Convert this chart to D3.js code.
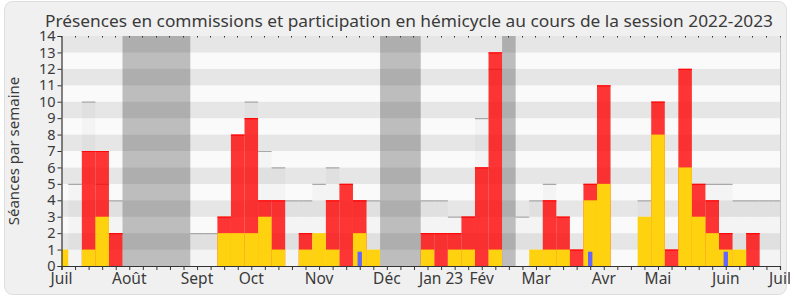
<!DOCTYPE html>
<html>
<head>
<meta charset="utf-8">
<script src="https://cdn.jsdelivr.net/npm/d3@7"></script>
<style>
  html, body { margin: 0; padding: 0; background: #ffffff; }
  svg { display: block; }
  text { font-family: "Noto Sans", "DejaVu Sans", sans-serif; fill: #3a3a3a; }
</style>
</head>
<body>
<svg id="chart" width="790" height="300"></svg>
<script>
// Weekly values, week 0 = first week of July 2022, week 53 = first week of July 2023
const presences = [0, 0, 7, 7, 2, 0, 0, 0, 0, 0, 0, 0, 3, 8, 9, 4, 4, 0, 2, 0, 4, 5, 4, 0, 0, 0, 0,
  2, 2, 2, 3, 6, 13, 0, 0, 0, 4, 3, 1, 5, 11, 0, 0, 0, 10, 1, 12, 5, 4, 2, 0, 2, 0, 0];
const hemicycle = [1, 0, 1, 3, 0, 0, 0, 0, 0, 0, 0, 0, 2, 2, 2, 3, 1, 0, 1, 2, 1, 0, 2, 1, 0, 0, 0,
  1, 0, 1, 1, 0, 1, 0, 0, 1, 1, 1, 0, 4, 5, 0, 0, 3, 8, 0, 6, 3, 2, 1, 1, 0, 0, 0];
const mediane = [0, 5, 10, 5, 4, 0, 0, 0, 0, 0, 2, 2, 0, 0, 10, 7, 6, 4, 4, 5, 6, 0, 4, 4, 0, 0, 0,
  4, 4, 3, 3, 9, 12, 0, 3, 4, 5, 0, 0, 0, 0, 0, 0, 4, 0, 0, 0, 0, 5, 5, 4, 4, 4, 4];
const questionWeeks = [22, 39, 49];
const questionValues = [0.87, 0.87, 0.87];
const vacances = [[5, 9], [24, 26], [33, 33]];
const monthLabels = ["Juil", "Août", "Sept", "Oct", "Nov", "Déc", "Jan 23", "Fév", "Mar", "Avr", "Mai", "Juin", "Juil"];
const monthWeeks = [0, 5, 10, 14, 19, 24, 28, 31, 35, 40, 44, 49, 53];
const yTicks = d3.range(0, 15);

const margin = { top: 36, right: 10, bottom: 34, left: 61.5 },
  width = 790, height = 300,
  plotW = width - margin.left - margin.right,
  plotH = height - margin.top - margin.bottom;

const svg = d3.select("#chart");

// outer panel
svg.append("rect")
  .attr("x", 4.5).attr("y", 1.5)
  .attr("width", 782).attr("height", 293)
  .attr("rx", 8)
  .attr("fill", "#f0f0f0")
  .attr("stroke", "#dedede");

const x = d3.scaleLinear().domain([0, 53]).range([0, plotW]);
const y = d3.scaleLinear().domain([0, 14]).range([plotH, 0]);

svg.append("defs").append("clipPath").attr("id", "plotclip")
  .append("rect").attr("width", plotW).attr("height", plotH);

const g = svg.append("g").attr("transform", `translate(${margin.left},${margin.top})`);
const plot = g.append("g").attr("clip-path", "url(#plotclip)");

// background stripes
plot.selectAll("rect.stripe")
  .data(d3.range(14))
  .join("rect")
  .attr("class", "stripe")
  .attr("x", 0)
  .attr("width", plotW)
  .attr("y", (d) => y(d + 1))
  .attr("height", (d) => y(d) - y(d + 1))
  .attr("fill", (d) => (d % 2 === 0 ? "#fafafa" : "#e6e6e6"));

// median presence (light bars)
const weeks = presences.map((d, i) => i);
plot.selectAll("rect.median")
  .data(weeks.filter((i) => mediane[i] > 0))
  .join("rect")
  .attr("class", "median")
  .attr("x", (i) => x(i - 0.5))
  .attr("width", (i) => x(i + 0.5) - x(i - 0.5))
  .attr("y", (i) => y(mediane[i]))
  .attr("height", (i) => y(0) - y(mediane[i]))
  .attr("fill", "#000")
  .attr("fill-opacity", 0.025);

plot.selectAll("line.median")
  .data(weeks.filter((i) => mediane[i] > 0))
  .join("line")
  .attr("class", "median")
  .attr("x1", (i) => x(i - 0.5))
  .attr("x2", (i) => x(i + 0.5))
  .attr("y1", (i) => y(mediane[i]) + 0.5)
  .attr("y2", (i) => y(mediane[i]) + 0.5)
  .attr("stroke", "#a8a8a8")
  .attr("stroke-width", 1.2);

// commission presences (red)
plot.selectAll("rect.pres")
  .data(weeks.filter((i) => presences[i] > 0))
  .join("rect")
  .attr("class", "pres")
  .attr("x", (i) => x(i - 0.5))
  .attr("width", (i) => x(i + 0.5) - x(i - 0.5))
  .attr("y", (i) => y(presences[i]))
  .attr("height", (i) => y(0) - y(presences[i]))
  .attr("fill", "rgb(255,0,0)")
  .attr("fill-opacity", 0.79);

plot.selectAll("line.pres")
  .data(weeks.filter((i) => presences[i] > 0))
  .join("line")
  .attr("class", "pres")
  .attr("x1", (i) => x(i - 0.5))
  .attr("x2", (i) => x(i + 0.5))
  .attr("y1", (i) => y(presences[i]) + 0.5)
  .attr("y2", (i) => y(presences[i]) + 0.5)
  .attr("stroke", "#ff0a0a")
  .attr("stroke-width", 1.2);

// hemicycle participation (yellow)
plot.selectAll("rect.hemi")
  .data(weeks.filter((i) => hemicycle[i] > 0))
  .join("rect")
  .attr("class", "hemi")
  .attr("x", (i) => x(i - 0.5))
  .attr("width", (i) => x(i + 0.5) - x(i - 0.5))
  .attr("y", (i) => y(hemicycle[i]))
  .attr("height", (i) => y(0) - y(hemicycle[i]))
  .attr("fill", "#ffd20f");

// oral questions (blue)
plot.selectAll("rect.quest")
  .data(questionWeeks)
  .join("rect")
  .attr("class", "quest")
  .attr("x", (w) => x(w - 0.16))
  .attr("width", (w) => x(w + 0.16) - x(w - 0.16))
  .attr("y", (w, k) => y(questionValues[k]))
  .attr("height", (w, k) => y(0) - y(questionValues[k]))
  .attr("fill", "#6464ff");

// parliamentary holidays
plot.selectAll("rect.vac")
  .data(vacances)
  .join("rect")
  .attr("class", "vac")
  .attr("x", (d) => x(d[0] - 0.5))
  .attr("width", (d) => x(d[1] + 0.5) - x(d[0] - 0.5))
  .attr("y", 0)
  .attr("height", plotH)
  .attr("fill", "#000")
  .attr("fill-opacity", 0.245);

// right border
g.append("line")
  .attr("x1", plotW + 0.5).attr("x2", plotW + 0.5)
  .attr("y1", 0).attr("y2", plotH)
  .attr("stroke", "#c8c8c8");

// top dotted ticks
g.selectAll("rect.topTick")
  .data(d3.range(0, 54))
  .join("rect")
  .attr("class", "topTick")
  .attr("x", (i) => Math.round(x(i)) - 0.5)
  .attr("y", 0)
  .attr("width", 1)
  .attr("height", 1.5)
  .attr("fill", "#333");

// x axis
const xAxis = d3.axisBottom(x)
  .tickValues(d3.range(0, 54))
  .tickSize(4)
  .tickFormat("");
const xg = g.append("g").attr("transform", `translate(0,${plotH})`).call(xAxis);
xg.select(".domain").attr("stroke", "#333").attr("stroke-width", 1.2);
xg.selectAll(".tick line").attr("stroke", "#333");

g.selectAll("text.month")
  .data(monthLabels)
  .join("text")
  .attr("class", "month")
  .attr("x", (d, i) => x(monthWeeks[i]))
  .attr("y", plotH + 18)
  .attr("text-anchor", "middle")
  .style("font-size", "15.5px")
  .text((d) => d);

// y axis
const yAxis = d3.axisLeft(y).tickValues(yTicks).tickSize(4).tickPadding(2);
const yg = g.append("g").call(yAxis);
yg.select(".domain").attr("stroke", "#333").attr("stroke-width", 1.2);
yg.selectAll(".tick line").attr("stroke", "#333");
yg.selectAll(".tick text")
  .style("font-family", "'Noto Sans', 'DejaVu Sans', sans-serif")
  .style("font-size", "14.5px")
  .attr("fill", "#3a3a3a");

svg.append("text")
  .attr("transform", "translate(19,151) rotate(-90)")
  .attr("text-anchor", "middle")
  .style("font-size", "15px")
  .text("Séances par semaine");

svg.append("text")
  .attr("x", 409)
  .attr("y", 27)
  .attr("text-anchor", "middle")
  .attr("textLength", 728)
  .attr("lengthAdjust", "spacingAndGlyphs")
  .style("font-size", "17px")
  .text("Présences en commissions et participation en hémicycle au cours de la session 2022-2023");
</script>
</body>
</html>
